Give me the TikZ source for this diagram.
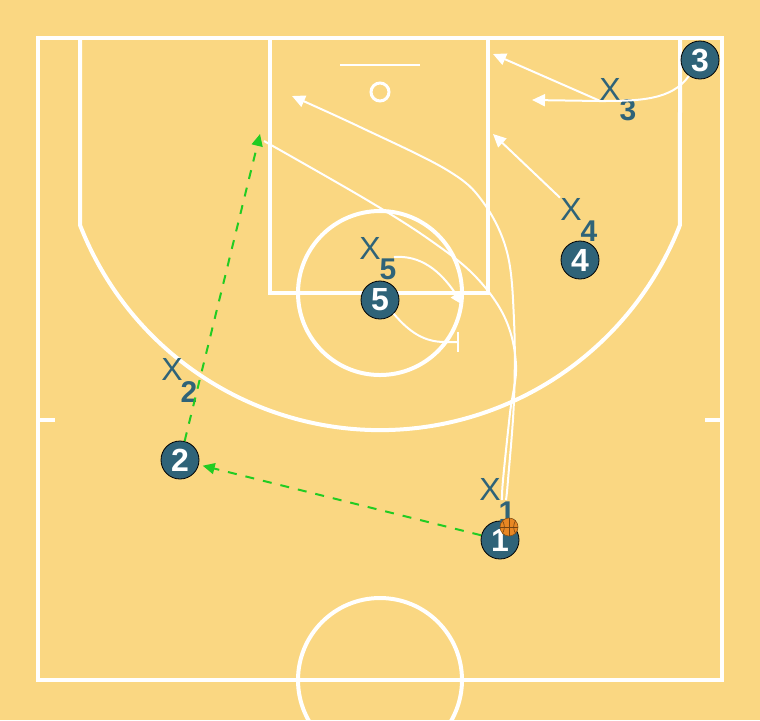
\documentclass[tikz,border=0pt]{standalone}
\usepackage{fontspec}
\setmainfont{Liberation Sans}
\usetikzlibrary{arrows.meta}

\definecolor{courtbg}{RGB}{250,215,130}
\definecolor{team}{RGB}{47,99,120}
\definecolor{passgreen}{RGB}{34,204,34}
\definecolor{ballorange}{RGB}{232,135,35}

\begin{document}
\begin{tikzpicture}[x=0.5pt,y=-0.5pt,
  court/.style={white, line width=2pt},
  player/.style={circle, draw=black, line width=0.4pt, fill=team, minimum size=19pt, inner sep=0pt,
    text=white, font=\fontsize{16}{16}\selectfont\bfseries},
  defx/.style={text=team, inner sep=0pt, font=\fontsize{16}{16}\selectfont},
  defnum/.style={text=team, inner sep=0pt, font=\fontsize{15}{15}\selectfont\bfseries},
  move/.style={white, line width=1pt, -{Triangle[length=6.5pt,width=6pt]}},
  cut/.style={white, line width=1pt},
  pass/.style={passgreen, line width=1pt, dash pattern=on 4.5pt off 4.5pt,
    -{Triangle[length=6pt,width=5.5pt]}},
  screen/.style={white, line width=1pt, -{Bar[width=10pt]}},
  ball/.style={circle, fill=ballorange, draw=ballorange!60!black, line width=0.3pt,
    minimum size=9pt, inner sep=0pt}
]

% Floor
\fill[courtbg] (0,0) rectangle (760,720);

\begin{scope}
\clip (0,0) rectangle (760,720);

% Court lines
\draw[court] (38,38) rectangle (722,680);
\draw[court] (270,38) rectangle (488,293);
\draw[court] (80,38) -- (80,225) arc[start angle=201.3, end angle=338.7, radius=161pt] -- (680,38);
\draw[court] (380,293) circle[radius=41pt];
\draw[court] (380,680) circle[radius=41pt];
\draw[court] (38,420) -- (55,420);
\draw[court] (705,420) -- (722,420);

% Backboard and hoop
\draw[white, line width=1pt] (340,65) -- (420,65);
\draw[white, line width=1.5pt] (380,92) circle[radius=4.5pt];
\end{scope}

% Players
\node[player] (p1) at (500,540) {1};
\node[player] (p2) at (180,460) {2};
\node[player] (p3) at (700,60) {3};
\node[player] (p4) at (580,260) {4};
\node[player] (p5) at (380,300) {5};

% Defenders
\node[defx] (x1) at (490,489) {X};
\node[defnum] (n1) at (507,512) {1};
\node[defx] (x2) at (172,369) {X};
\node[defnum] (n2) at (189,392) {2};
\node[defx] (x3) at (610,89) {X};
\node[defnum] (n3) at (628,110) {3};
\node[defx] (x4) at (571,209) {X};
\node[defnum] (n4) at (589,231) {4};
\node[defx] (x5) at (370,248) {X};
\node[defnum] (n5) at (388,269) {5};

% End points of the moves
\coordinate (wing) at (260,134);
\coordinate (block) at (292,96);
\coordinate (top3) at (493,54);
\coordinate (mid3) at (532,100);
\coordinate (post4) at (493,134);
\coordinate (help5) at (463,305);
\coordinate (set5) at (459,342);

% Cuts from the ball side
\draw[cut] plot[smooth, tension=0.6] coordinates {(502,500) (503,480) (510,413) (516,365) (505,318) (475,276) (430,240) (367,200) (264,141)};
\draw[move] plot[smooth, tension=0.6] coordinates {(506,500) (508,480) (514,400) (514,320) (507,252) (483,202) (447,170) (360,127) (block)};

% Weak side moves
\draw[move] (p3.235) .. controls (672,100) and (640,101) .. (600,101) -- (mid3);
\draw[move] (x3.south west) -- (top3);
\draw[move] (x4.north west) -- (post4);

% Post moves
\draw[move] (394,257) .. controls (420,255) and (440,270) .. (help5);
\draw[screen] (p5.south east) .. controls (410,333) and (425,342) .. (445,342) -- (set5);

% Passes
\draw[pass, shorten >=2pt] (p1) -- (p2);
\draw[pass] (p2) -- (wing);

% Ball
\node[ball] (bb) at (509,527) {};
\draw[ballorange!50!black, line width=0.3pt] (bb.north) -- (bb.south);
\draw[ballorange!50!black, line width=0.3pt] (bb.west) -- (bb.east);
\draw[ballorange!50!black, line width=0.3pt] (bb.north west) .. controls (505,525) and (505,529) .. (bb.south west);
\draw[ballorange!50!black, line width=0.3pt] (bb.north east) .. controls (513,525) and (513,529) .. (bb.south east);

\end{tikzpicture}
\end{document}
